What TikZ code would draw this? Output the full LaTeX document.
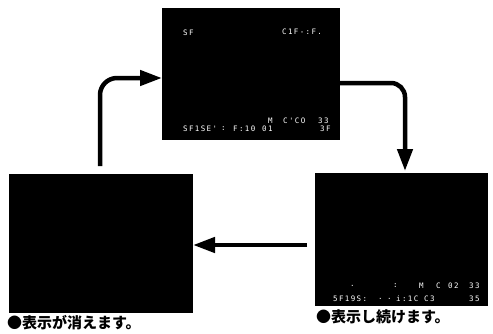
\documentclass[tikz,border=0pt]{standalone}
\usepackage{fontspec}
\newfontfamily\jpfont{Noto Sans CJK JP}
\newfontfamily\scrfont{DejaVu Sans Mono}[LetterSpace=18]
\usetikzlibrary{arrows.meta}
\begin{document}
\begin{tikzpicture}[x=1pt,y=-1pt,
  screen/.style={fill=black, draw=none, inner sep=0pt, outer sep=0pt},
  scrtext/.style={text=white, font=\scrfont\fontsize{7.5}{7.5}\selectfont, inner sep=0pt, anchor=west},
  captext/.style={font=\jpfont\bfseries\fontsize{15}{15}\selectfont, inner sep=0pt, anchor=west},
  arr/.style={line width=4.5pt, -{Triangle[length=22pt,width=15pt]}}]
\useasboundingbox (0,0) rectangle (493,333);
% screens
\node[screen, minimum width=178pt, minimum height=132pt] (top) at (251,74) {};
\node[screen, minimum width=184pt, minimum height=139pt] (left) at (101,243.5) {};
\node[screen, minimum width=173pt, minimum height=133pt] (right) at (401.5,239.5) {};
% helper coordinates
\coordinate (ua) at (0,78);
\coordinate (da) at (0,83);
\coordinate (dx) at (405,0);
\coordinate (la) at (0,245);
% arrows
\draw[arr, rounded corners=17pt] ([xshift=-1pt,yshift=8pt]left.north) |- (top.west |- ua);
\draw[arr, rounded corners=14pt] (top.east |- da) -| ([yshift=2pt]right.north -| dx);
\draw[arr] ([xshift=-8pt]right.west |- la) -- (left.east |- la);
% top screen texts
\node[scrtext] (t1) at (183,33) {SF};
\node[scrtext] (t2) at (282,32) {C1F-:F.};
\node[scrtext] (t3) at (268,121) {M};
\node[scrtext] (t4) at (283,121) {C'CO};
\node[scrtext] (t5) at (318,121) {33};
\node[scrtext] (t6) at (183,129) {SF1SE'};
\node[scrtext] (t7) at (221,129) {:};
\node[scrtext] (t8) at (233,129) {F:10};
\node[scrtext] (t9) at (262,129) {01};
\node[scrtext] (t10) at (320,129) {3F};
% right screen texts
\node[scrtext] (r1) at (350,286) {.};
\node[scrtext] (r2) at (393,286) {:};
\node[scrtext] (r3) at (419,286) {M};
\node[scrtext] (r4) at (436,286) {C};
\node[scrtext] (r5) at (448,286) {02};
\node[scrtext] (r6) at (469,286) {33};
\node[scrtext] (r7) at (333,299) {5F19S:};
\node[scrtext] (r8) at (378,299) {.};
\node[scrtext] (r9) at (387,299) {.};
\node[scrtext] (r10) at (396,299) {i:1C};
\node[scrtext] (r11) at (424,299) {C3};
\node[scrtext] (r12) at (469,299) {35};
% captions
\node[captext] (c1) at (7,323) {●表示が消えます。};
\node[captext] (c2) at (316,317) {●表示し続けます。};
\end{tikzpicture}
\end{document}
